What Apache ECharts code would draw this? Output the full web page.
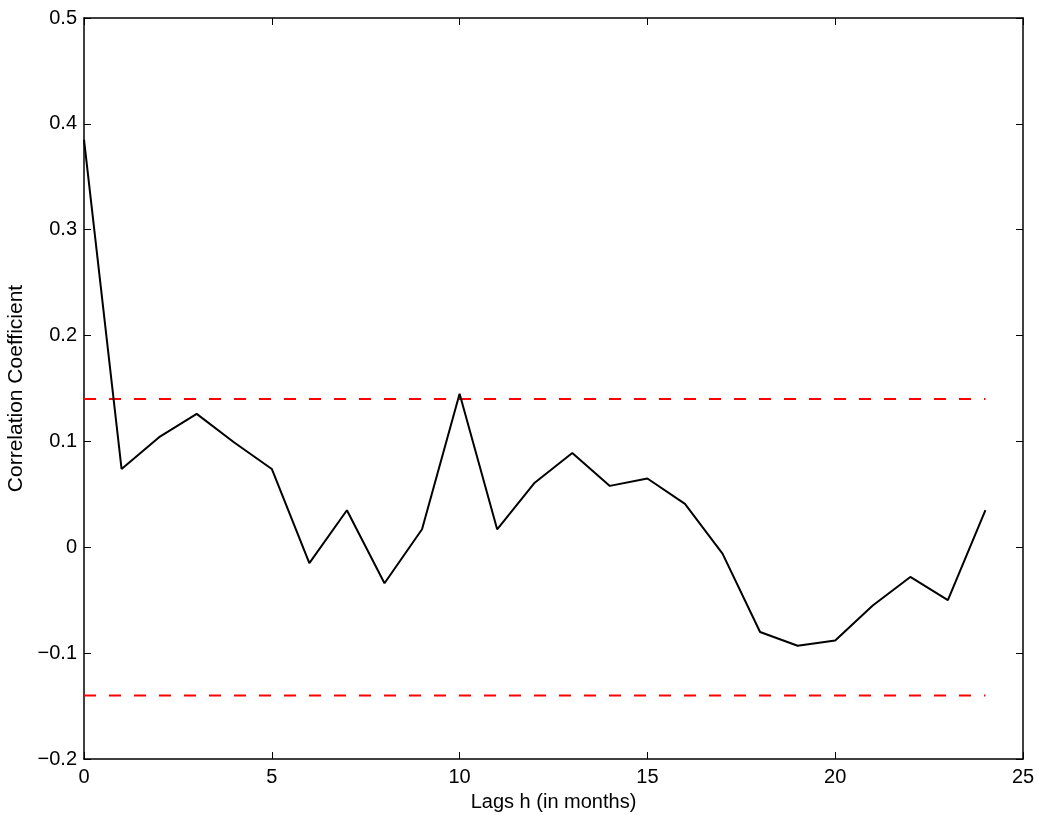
<!DOCTYPE html>
<html>
<head>
<meta charset="utf-8">
<script src="https://cdn.jsdelivr.net/npm/echarts@6/dist/echarts.min.js"></script>
<style>
  html, body { margin: 0; padding: 0; background: #fff; }
  #chart { width: 1038px; height: 815px; }
</style>
</head>
<body>
<div id="chart"></div>
<script>
// Sample autocorrelation by lag (months)
const lags = [0,1,2,3,4,5,6,7,8,9,10,11,12,13,14,15,16,17,18,19,20,21,22,23,24];
const correlation = [0.385,0.074,0.104,0.126,0.099,0.074,-0.015,0.035,-0.034,0.017,0.145,0.017,
                     0.061,0.089,0.058,0.065,0.041,-0.006,-0.080,-0.093,-0.088,-0.055,-0.028,-0.050,0.035];
// Confidence bounds
const boundLags = [0, 24];
const upperBound = 0.14;
const lowerBound = -0.14;

const FONT = 'Liberation Sans, Arial, Helvetica, sans-serif';

function fmtY(v) {
  if (Math.abs(v) < 1e-9) return '0';
  return v.toFixed(1).replace('-', '\u2212');
}

const tickStyle = { show: true, inside: true, length: 7, lineStyle: { color: '#000', width: 1 } };
const lineStyle = { show: true, onZero: false, lineStyle: { color: '#000', width: 1.5 } };

const chart = echarts.init(document.getElementById('chart'), null, { renderer: 'canvas' });
chart.setOption({
  backgroundColor: '#fff',
  animation: false,
  grid: { left: 84, right: 15, top: 18, bottom: 56, containLabel: false, outerBoundsMode: 'none' },
  xAxis: [
    {
      type: 'value', min: 0, max: 25, interval: 5, position: 'bottom',
      axisLine: lineStyle, axisTick: tickStyle, splitLine: { show: false },
      axisLabel: { color: '#000', fontSize: 20, fontFamily: FONT, margin: 8 },
      name: 'Lags h (in months)', nameLocation: 'middle', nameGap: 33,
      nameTextStyle: { color: '#000', fontSize: 20, fontFamily: FONT }
    },
    {
      type: 'value', min: 0, max: 25, interval: 5, position: 'top',
      axisLine: lineStyle, axisTick: tickStyle, splitLine: { show: false },
      axisLabel: { show: false }
    }
  ],
  yAxis: [
    {
      type: 'value', min: -0.2, max: 0.5, interval: 0.1, position: 'left',
      axisLine: lineStyle, axisTick: tickStyle, splitLine: { show: false },
      axisLabel: { color: '#000', fontSize: 20, fontFamily: FONT, margin: 7, formatter: fmtY },
      name: 'Correlation Coefficient', nameLocation: 'middle', nameGap: 49, nameRotate: 90,
      nameTextStyle: { color: '#000', fontSize: 21, fontFamily: FONT }
    },
    {
      type: 'value', min: -0.2, max: 0.5, interval: 0.1, position: 'right',
      axisLine: lineStyle, axisTick: tickStyle, splitLine: { show: false },
      axisLabel: { show: false }
    }
  ],
  series: [
    {
      type: 'line', xAxisIndex: 0, yAxisIndex: 0,
      data: lags.map((h, i) => [h, correlation[i]]),
      symbol: 'none', lineStyle: { color: '#000', width: 2 }, z: 3
    },
    {
      type: 'line', xAxisIndex: 0, yAxisIndex: 0,
      data: boundLags.map(h => [h, upperBound]),
      symbol: 'none', lineStyle: { color: '#ff0000', width: 2, type: [12, 13] }, z: 2
    },
    {
      type: 'line', xAxisIndex: 0, yAxisIndex: 0,
      data: boundLags.map(h => [h, lowerBound]),
      symbol: 'none', lineStyle: { color: '#ff0000', width: 2, type: [12, 13] }, z: 2
    }
  ]
});
</script>
</body>
</html>
